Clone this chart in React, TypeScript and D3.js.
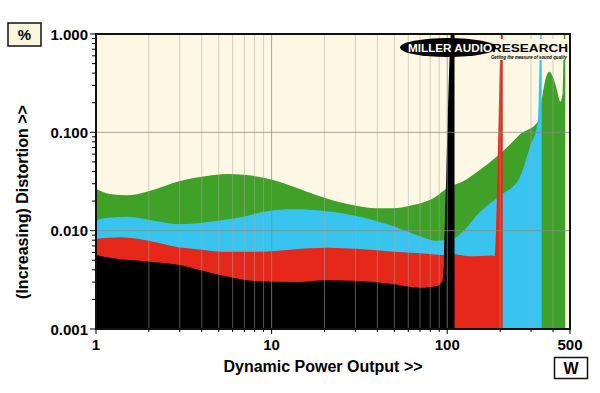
import React from "react";
import * as d3 from "d3";

// ---- data (power W, distortion %) ----
const greenSeries: [number, number][] = [
  [1, 0.0265], [1.2, 0.0236], [1.5, 0.0229], [1.95, 0.0249], [3.0, 0.032], [4.28, 0.0359],
  [5.57, 0.0377], [7.2, 0.0368], [10.2, 0.0327], [15.9, 0.0249], [20.6, 0.0213], [29, 0.0182],
  [39.6, 0.01686], [49, 0.01686], [63.6, 0.0182], [83, 0.0213], [103, 0.028], [122, 0.0314],
  [153, 0.0413], [191, 0.0565], [226, 0.0743], [257, 0.094], [328, 0.128], [345, 0.213],
  [366, 0.368], [382, 0.413], [395, 0.383], [417, 0.291], [441, 0.205], [454, 0.251],
  [463, 1.2], [470, 1.2],
];
const blueSeries: [number, number][] = [
  [1, 0.01282], [1.2, 0.01365], [1.5, 0.01385], [2.3, 0.01233], [3.0, 0.0116], [4.45, 0.01233],
  [6.9, 0.01385], [9.4, 0.0158], [13.2, 0.01647], [20.6, 0.0158], [31.8, 0.01385], [49, 0.01114],
  [70, 0.0088], [87, 0.00789], [110, 0.0084], [122, 0.0097], [153, 0.0154], [198, 0.0225],
  [257, 0.034], [295, 0.07], [328, 0.128], [341, 1.2], [345, 1.2],
];
const redSeries: [number, number][] = [
  [1, 0.00822], [1.37, 0.00855], [1.85, 0.00809], [3.0, 0.00676], [3.9, 0.00645], [5.3, 0.0061],
  [8.2, 0.0061], [13.2, 0.00645], [20.6, 0.0067], [31.8, 0.0065], [49, 0.0061], [70, 0.00588],
  [94, 0.00565], [107, 0.0058], [134, 0.00548], [181, 0.0056], [186, 0.0055], [204.6, 1.2],
  [207, 1.2],
];
const blackSeries: [number, number][] = [
  [1, 0.00565], [1.2, 0.0053], [2.03, 0.00483], [3.0, 0.00447], [3.9, 0.00398], [5.4, 0.00345],
  [8.0, 0.00307], [13.2, 0.0030], [20.6, 0.00314], [31.8, 0.00307], [49, 0.00286], [69.8, 0.00262],
  [87, 0.00273], [94, 0.0031], [106, 1.2], [110, 1.2],
];

const yTickValues = [0.001, 0.01, 0.1, 1];
const yTickLabels = ["0.001", "0.010", "0.100", "1.000"];
const xTickValues = [1, 10, 100, 500];
const xTickLabels = ["1", "10", "100", "500"];
const xMinor = [2, 3, 4, 5, 6, 7, 8, 9, 20, 30, 40, 50, 60, 70, 80, 90, 200, 300, 400];
const yMinor = [2, 3, 4, 5, 6, 7, 8, 9].flatMap((m) => [m * 0.001, m * 0.01, m * 0.1]);

const series = [
  { data: greenSeries, color: "#3fa127" },
  { data: blueSeries, color: "#37c4ef" },
  { data: redSeries, color: "#e5281a" },
  { data: blackSeries, color: "#000000" },
];

const L = 96, R = 570, T = 34, B = 329;
const FONT = "'Liberation Sans', Arial, sans-serif";

export default function App() {
  const x = d3.scaleLog().domain([1, 500]).range([L, R]);
  const y = d3.scaleLog().domain([0.001, 1]).range([B, T]);
  const area = d3
    .area<[number, number]>()
    .x((d) => x(d[0]))
    .y0(B)
    .y1((d) => y(d[1]))
    .curve(d3.curveMonotoneX);

  return (
    <svg width={600} height={393} style={{ position: "absolute", left: 0, top: 0, background: "#fff" }}>
      <defs>
        <clipPath id="plotClip">
          <rect x={L} y={T} width={R - L} height={B - T} />
        </clipPath>
      </defs>
      <rect x={0} y={0} width={600} height={393} fill="#fff" />
      <rect x={L} y={T} width={R - L} height={B - T} fill="#fcf8e4" />
      <g clipPath="url(#plotClip)">
        {series.map((s, i) => (
          <path key={i} d={area(s.data) || ""} fill={s.color} />
        ))}
        {xMinor.map((v) => (
          <line key={"gx" + v} x1={x(v)} x2={x(v)} y1={T} y2={B} stroke="#a8a8a8" strokeOpacity={0.5} strokeWidth={1} />
        ))}
        {[10, 100].map((v) => (
          <line key={"gX" + v} x1={x(v)} x2={x(v)} y1={T} y2={B} stroke="#8a8a8a" strokeOpacity={0.75} strokeWidth={1} />
        ))}
        {[0.01, 0.1].map((v) => (
          <line key={"gY" + v} x1={L} x2={R} y1={y(v)} y2={y(v)} stroke="#8a8a8a" strokeOpacity={0.75} strokeWidth={1} />
        ))}
      </g>
      {/* logo */}
      <g>
        <rect x={490} y={39} width={79} height={21} fill="#fcf8e4" />
        <ellipse cx={448} cy={47.5} rx={48} ry={9.5} fill="#000" />
        <text x={450} y={51.5} textAnchor="middle" fill="#fff" fontFamily={FONT} fontWeight={900} fontSize={11.5} textLength={84} lengthAdjust="spacingAndGlyphs">MILLER AUDIO</text>
        <text x={492} y={51.5} fill="#000" fontFamily={FONT} fontWeight={900} fontSize={11.5} textLength={76} lengthAdjust="spacingAndGlyphs">RESEARCH</text>
        <text x={491} y={59} fill="#000" fontFamily={FONT} fontWeight={700} fontStyle="italic" fontSize={5} textLength={76} lengthAdjust="spacingAndGlyphs">Getting the measure of sound quality</text>
      </g>
      {/* frame */}
      <rect x={L} y={T} width={R - L} height={B - T} fill="none" stroke="#111" strokeWidth={2} />
      {/* y ticks */}
      {yMinor.map((v) => (
        <line key={"ty" + v} x1={L - 4} x2={L} y1={y(v)} y2={y(v)} stroke="#000" strokeWidth={1} />
      ))}
      {yTickValues.map((v, i) => (
        <g key={"yt" + v}>
          <line x1={L - 6} x2={L} y1={y(v)} y2={y(v)} stroke="#000" strokeWidth={1} />
          <text x={L - 8} y={y(v) + 5.5} textAnchor="end" fontFamily={FONT} fontWeight={700} fontSize={15}>{yTickLabels[i]}</text>
        </g>
      ))}
      {/* x ticks */}
      {xMinor.map((v) => (
        <line key={"tx" + v} x1={x(v)} x2={x(v)} y1={B} y2={B + 3} stroke="#000" strokeWidth={1} />
      ))}
      {xTickValues.map((v, i) => (
        <g key={"xt" + v}>
          <line x1={x(v)} x2={x(v)} y1={B} y2={B + 5} stroke="#000" strokeWidth={1} />
          <text x={x(v)} y={B + 21} textAnchor="middle" fontFamily={FONT} fontWeight={700} fontSize={15}>{xTickLabels[i]}</text>
        </g>
      ))}
      {/* axis titles */}
      <text x={323} y={372} textAnchor="middle" fontFamily={FONT} fontWeight={700} fontSize={16}>Dynamic Power Output &gt;&gt;</text>
      <text transform="translate(28,202) rotate(-90)" textAnchor="middle" fontFamily={FONT} fontWeight={700} fontSize={16}>(Increasing) Distortion &gt;&gt;</text>
      {/* unit boxes */}
      <rect x={8} y={23} width={33} height={23} fill="#fcf6dc" stroke="#111" strokeWidth={1.5} />
      <text x={24.5} y={40} textAnchor="middle" fontFamily={FONT} fontWeight={700} fontSize={15}>%</text>
      <rect x={554.5} y={357.5} width={33} height={21} fill="#fff" stroke="#111" strokeWidth={1.5} />
      <text x={571} y={374} textAnchor="middle" fontFamily={FONT} fontWeight={700} fontSize={16}>W</text>
    </svg>
  );
}
